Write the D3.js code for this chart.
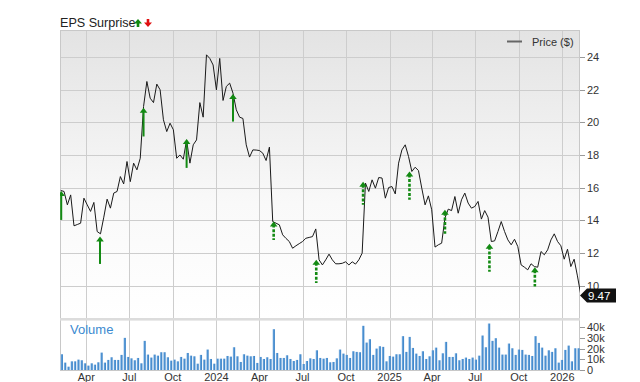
<!DOCTYPE html>
<html>
<head>
<meta charset="utf-8">
<script src="https://cdn.jsdelivr.net/npm/d3@7"></script>
<style>
  body { margin: 0; background: #fff; }
  text { font-family: "Liberation Sans", Arial, sans-serif; }
</style>
</head>
<body>
<div id="chart"></div>
<script>
// weekly closing prices, first week starts 2023-02-06
var startWeek = new Date(2023, 1, 6);
var prices = [
  15.83, 15.77, 14.95, 15.56, 13.67, 13.75, 13.83, 15.36, 14.95, 14.55,
  15.1, 13.32, 13.18, 14.2, 15.3, 14.75, 15.67, 15.77, 16.68, 16.23,
  17.6, 16.37, 17.5, 17.09, 17.8, 20.96, 22.49, 21.47, 21.2, 22.33,
  21.98, 20.15, 19.43, 19.94, 19.54, 17.8, 18.0, 17.74, 18.92, 17.5,
  18.62, 18.92, 21.2, 20.31, 24.12, 23.9, 23.5, 21.98, 23.9, 21.33,
  22.19, 22.39, 21.78, 20.76, 20.31, 20.23, 18.62, 17.87, 18.31, 18.3,
  18.27, 18.11, 17.66, 18.48, 13.93, 13.83, 13.73, 13.12, 12.9, 12.71,
  12.3, 12.45, 12.58, 12.71, 12.91, 12.96, 13.01, 13.48, 11.59, 11.28,
  11.59, 11.94, 11.59, 11.35, 11.35, 11.38, 11.47, 11.28, 11.47, 11.33,
  11.59, 12.0, 16.28, 15.77, 16.48, 15.97, 16.62, 16.59, 15.36, 16.01,
  16.07, 15.62, 17.5, 18.31, 18.62, 17.91, 16.99, 17.25, 17.05, 15.97,
  14.95, 15.5, 14.65, 12.37, 12.51, 12.61, 14.14, 14.69, 14.6, 15.46,
  14.44, 15.26, 15.67, 15.06, 14.75, 14.85, 15.16, 14.08, 14.6, 14.2,
  12.71, 12.75, 13.32, 13.93, 13.32, 12.81, 12.51, 12.85, 12.4, 11.28,
  11.14, 10.98, 11.35, 11.18, 11.14, 12.1, 11.9, 12.2, 12.81, 13.18,
  12.71, 12.45, 11.63, 12.24, 11.18, 11.63, 10.61, 9.47
];

// weekly volume, thousands
var volumes = [
  14.7, 6.9, 3.1, 8.1, 8.1, 9.7, 9.1, 6.25, 4.1, 6.25, 5, 7.2, 16.25, 6.9, 9.4,
  11.9, 9.4, 9.4, 14.1, 30, 12.2, 10.9, 9.1, 11.25, 6.25, 27.2, 14.4, 11.6, 14.4,
  13.4, 16.6, 16.6, 11.9, 8.75, 9.7, 8.1, 12.2, 10.6, 15.9, 13.4, 12.8, 5.9, 14.1,
  9.7, 19.1, 10.3, 5.9, 10.6, 10.6, 10.6, 13.1, 12.5,
  21.25, 12.8, 7.5, 14.7, 13.4, 12.8, 13.1, 6.6, 12.2, 10.3, 11.9, 10.3, 38.1,
  15.9, 11.25, 11.25, 13.75, 10.3, 8.4, 9.4, 14.7, 5.6, 8.4, 10.9, 10.3, 18.4,
  11.25, 10.6, 11.25, 7.2, 7.5, 10.9, 19.1, 15.3, 14.1, 11.25, 17.5, 16.9, 16.6,
  41.25, 25.6, 28.75, 14.1, 20, 22.2, 21.6, 8.1, 13.1, 12.5, 14.7, 14.7, 31.6, 16.9,
  30.9, 20.6, 15.3, 13.1, 17.5, 10.3, 12.8, 18.4, 20.9, 9.1, 15.6, 26.25, 12.2,
  12.2, 15.6, 9.1, 10.3, 11.6, 10.3, 11.6, 9.7, 13.4, 32.2, 21.25, 43.4, 27.2,
  29.7, 20.9, 14.4, 14.4, 24.7, 20.3, 14.1, 19.1, 18.75, 14.4, 14.1, 13.1, 31.6,
  25.3, 20.9, 13.4, 18.4, 16.9, 20.3, 6.9, 9.4, 18.75, 22.8, 8.1, 20.3, 20.3
];

// EPS surprise arrows (all beats)
var epsDates = ["2023-02-07", "2023-04-30", "2023-07-31", "2023-10-30", "2024-02-05", "2024-05-01",
  "2024-07-30", "2024-11-06", "2025-02-12", "2025-04-28", "2025-07-31", "2025-11-04"];
var epsTop = [15.8, 13.01, 20.88, 18.98, 21.73, 13.93, 11.59, 16.37, 16.99, 14.65, 12.57, 11.14];
var epsBottom = [14.03, 11.34, 19.13, 17.21, 20.04, 12.81, 10.18, 14.95, 15.26, 13.18, 10.87, 9.96];
var epsDashed = [false, false, false, false, false, true, true, true, true, true, true, true];

var xTickDates = ["2023-04-01", "2023-07-01", "2023-10-01", "2024-01-01", "2024-04-01", "2024-07-01",
  "2024-10-01", "2025-01-01", "2025-04-01", "2025-07-01", "2025-10-01", "2026-01-01"];
var xTickLabels = ["Apr", "Jul", "Oct", "2024", "Apr", "Jul", "Oct", "2025", "Apr", "Jul", "Oct", "2026"];
var priceTicks = [10, 12, 14, 16, 18, 20, 22, 24];
var volumeTicks = [0, 10, 20, 30, 40];
var volumeLabels = ["0", "10k", "20k", "30k", "40k"];

var parse = d3.timeParse("%Y-%m-%d");
var weeks = prices.map((p, i) => d3.timeDay.offset(startWeek, i * 7));

var svgWidth = 640, svgHeight = 382;
var plotLeft = 60, plotRight = 580, plotTop = 30, priceBottom = 318.6, volBottom = 370;

var svg = d3.select("#chart").append("svg")
  .attr("width", svgWidth)
  .attr("height", svgHeight);

var defs = svg.append("defs");
var bg = defs.append("linearGradient").attr("id", "bg").attr("x1", 0).attr("y1", 0).attr("x2", 0).attr("y2", 1);
bg.append("stop").attr("offset", "0%").attr("stop-color", "#e3e3e3");
bg.append("stop").attr("offset", "60%").attr("stop-color", "#f9f9f9");
bg.append("stop").attr("offset", "100%").attr("stop-color", "#ffffff");
var barGrad = defs.append("linearGradient").attr("id", "bar").attr("x1", 0).attr("y1", 0).attr("x2", 1).attr("y2", 0);
barGrad.append("stop").attr("offset", "0%").attr("stop-color", "#a9cbec");
barGrad.append("stop").attr("offset", "45%").attr("stop-color", "#4f93d3");
barGrad.append("stop").attr("offset", "100%").attr("stop-color", "#3b82c6");
defs.append("clipPath").attr("id", "plotclip")
  .append("rect").attr("x", plotLeft).attr("y", plotTop)
  .attr("width", plotRight - plotLeft).attr("height", volBottom - plotTop);

var x = d3.scaleTime()
  .domain([new Date(2023, 1, 4, 10), new Date(2026, 1, 7, 10)])
  .range([plotLeft, plotRight]);
var y = d3.scaleLinear().domain([8, 25.6]).range([priceBottom, 30.6]);
var yVol = d3.scaleLinear().domain([0, 45]).range([volBottom, volBottom - 48.2]);

// backgrounds
svg.append("rect").attr("x", plotLeft).attr("y", plotTop).attr("width", plotRight - plotLeft)
  .attr("height", priceBottom - plotTop).attr("fill", "url(#bg)");

// grid
var grid = svg.append("g").attr("stroke", "#cdcdcd").attr("stroke-width", 1);
grid.selectAll(".hg").data(priceTicks).enter().append("line")
  .attr("x1", plotLeft).attr("x2", plotRight)
  .attr("y1", d => Math.round(y(d)) + 0.5).attr("y2", d => Math.round(y(d)) + 0.5);
grid.selectAll(".vg").data(xTickDates).enter().append("line")
  .attr("y1", plotTop).attr("y2", volBottom)
  .attr("x1", d => Math.round(x(parse(d))) + 0.5).attr("x2", d => Math.round(x(parse(d))) + 0.5);

// frame
svg.append("rect").attr("x", plotLeft + 0.5).attr("y", plotTop + 0.5)
  .attr("width", plotRight - plotLeft - 1).attr("height", volBottom - plotTop)
  .attr("fill", "none").attr("stroke", "#c8c8c8");
svg.append("rect").attr("x", plotLeft).attr("y", priceBottom - 0.6).attr("width", plotRight - plotLeft)
  .attr("height", 2.6).attr("fill", "#dcdcdc");

var plot = svg.append("g").attr("clip-path", "url(#plotclip)");

// volume bars
plot.selectAll(".vol").data(volumes).enter().append("rect")
  .attr("x", (d, i) => x(weeks[i]) - 0.2)
  .attr("width", 2.4)
  .attr("y", d => yVol(d))
  .attr("height", d => volBottom - yVol(d))
  .attr("fill", "url(#bar)");

// price line
var line = d3.line()
  .x((d, i) => x(weeks[i]))
  .y(d => y(d));
plot.append("path").datum(prices)
  .attr("d", line)
  .attr("fill", "none")
  .attr("stroke", "#1a1a1a")
  .attr("stroke-width", 1);

// eps arrows
var arrows = plot.selectAll(".eps").data(epsDates).enter().append("g");
arrows.append("line")
  .attr("x1", d => x(parse(d))).attr("x2", d => x(parse(d)))
  .attr("y1", (d, i) => y(epsTop[i]) + 3).attr("y2", (d, i) => y(epsBottom[i]))
  .attr("stroke", "#138a13")
  .attr("stroke-width", (d, i) => epsDashed[i] ? 2.6 : 2)
  .attr("stroke-dasharray", (d, i) => epsDashed[i] ? "3,1.6" : null);
arrows.append("path")
  .attr("d", (d, i) => {
    var ax = x(parse(d)), ay = y(epsTop[i]);
    return `M${ax},${ay}L${ax + 3.8},${ay + 5}L${ax - 3.8},${ay + 5}Z`;
  })
  .attr("fill", "#138a13");

// right axis labels
var axisText = svg.append("g").attr("font-size", 11).attr("fill", "#333");
axisText.selectAll(".pt").data(priceTicks).enter().append("text")
  .attr("x", 587).attr("y", d => y(d) + 4).text(d => d);
svg.append("g").selectAll("line").data(priceTicks).enter().append("line")
  .attr("x1", plotRight).attr("x2", plotRight + 5)
  .attr("y1", d => Math.round(y(d)) + 0.5).attr("y2", d => Math.round(y(d)) + 0.5)
  .attr("stroke", "#999");
axisText.selectAll(".vt").data(volumeTicks).enter().append("text")
  .attr("x", 587).attr("y", d => yVol(d) + 4).text((d, i) => volumeLabels[i]);
svg.append("g").selectAll("line").data(volumeTicks).enter().append("line")
  .attr("x1", plotRight).attr("x2", plotRight + 5)
  .attr("y1", d => Math.round(yVol(d)) + 0.5).attr("y2", d => Math.round(yVol(d)) + 0.5)
  .attr("stroke", "#999");

// bottom axis
axisText.selectAll(".xt").data(xTickDates).enter().append("text")
  .attr("x", d => x(parse(d))).attr("y", 381)
  .attr("text-anchor", "middle")
  .text((d, i) => xTickLabels[i]);

// last price tag
var last = prices[prices.length - 1];
var ty = y(last) + 1;
svg.append("path")
  .attr("d", `M${plotRight},${ty}L${plotRight + 7},${ty - 7}L${plotRight + 36},${ty - 7}L${plotRight + 36},${ty + 7}L${plotRight + 7},${ty + 7}Z`)
  .attr("fill", "#111");
svg.append("text").attr("x", plotRight + 8).attr("y", ty + 4)
  .attr("font-size", 11.5).attr("fill", "#fff").text(last.toFixed(2));

// title
svg.append("text").attr("x", 60).attr("y", 27)
  .attr("font-size", 12.6).attr("fill", "#222").text("EPS Surprise");
svg.append("path").attr("d", "M138,19L142,23.5L139.3,23.5L139.3,27L136.7,27L136.7,23.5L134,23.5Z").attr("fill", "#138a13");
svg.append("path").attr("d", "M148,27L152,22.5L149.3,22.5L149.3,19L146.7,19L146.7,22.5L144,22.5Z").attr("fill", "#e01010");

// legend
svg.append("line").attr("x1", 507).attr("x2", 522).attr("y1", 41.5).attr("y2", 41.5)
  .attr("stroke", "#666").attr("stroke-width", 2);
svg.append("text").attr("x", 532).attr("y", 45.5).attr("font-size", 11).attr("fill", "#333").text("Price ($)");

// volume label
svg.append("text").attr("x", 70).attr("y", 334)
  .attr("font-size", 13).attr("fill", "#3c8ad0").text("Volume");
</script>
</body>
</html>
